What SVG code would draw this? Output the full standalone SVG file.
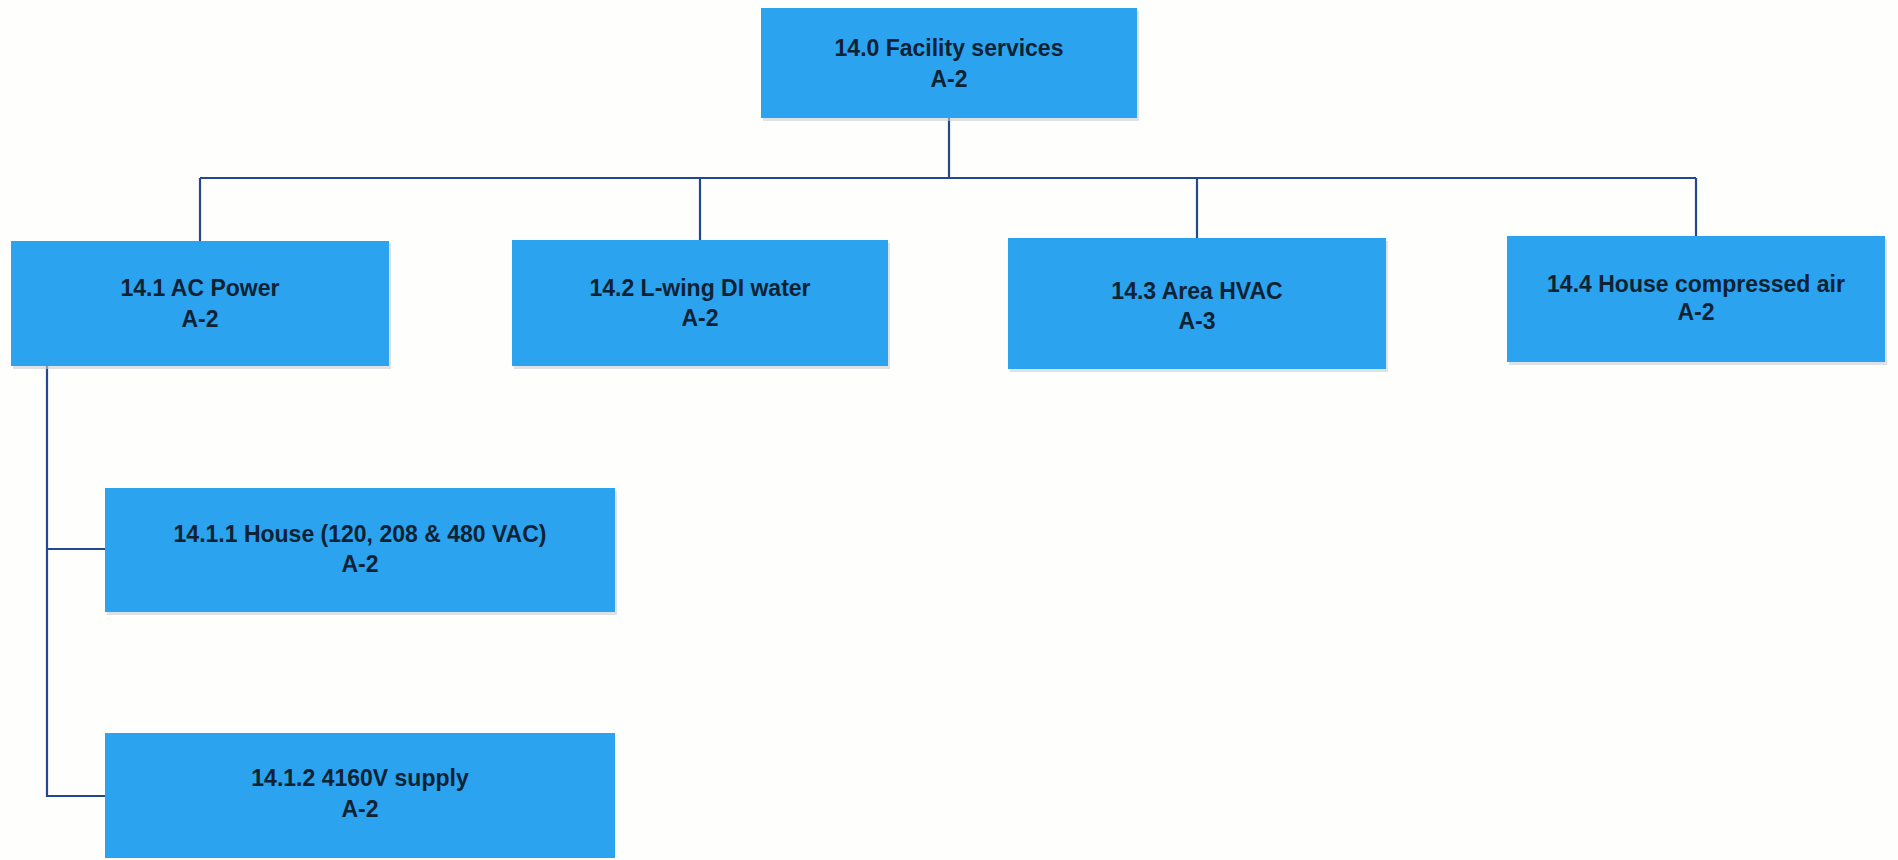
<svg xmlns="http://www.w3.org/2000/svg" width="1898" height="860" viewBox="0 0 1898 860">
  <style>
    .box { fill: #2ba3ef; }
    .shadow { fill: #c9ced3; opacity: 0.6; }
    .lbl { font-family: "Liberation Sans", Arial, sans-serif; font-weight: bold; font-size: 23px; fill: #0f2233; text-anchor: middle; }
    .conn { stroke: #24488c; stroke-width: 2.2; fill: none; }
  </style>
  <rect width="1898" height="860" fill="#fefefd"/>

  <g id="connectors">
    <path class="conn" d="M949 117 V178"/>
    <path class="conn" d="M200 178 H1696"/>
    <path class="conn" d="M200 178 V241"/>
    <path class="conn" d="M700 178 V240"/>
    <path class="conn" d="M1197 178 V238"/>
    <path class="conn" d="M1696 178 V236"/>
    <path class="conn" d="M47 366 V796 H105"/>
    <path class="conn" d="M47 549 H105"/>
  </g>

  <g id="n14_0">
    <rect class="shadow" x="763" y="11" width="376" height="110"/>
    <rect class="box" x="761" y="8" width="376" height="110"/>
    <text class="lbl" x="949" y="56">14.0 Facility services</text>
    <text class="lbl" x="949" y="87">A-2</text>
  </g>

  <g id="n14_1">
    <rect class="shadow" x="13" y="244" width="378" height="125"/>
    <rect class="box" x="11" y="241" width="378" height="125"/>
    <text class="lbl" x="200" y="296">14.1 AC Power</text>
    <text class="lbl" x="200" y="327">A-2</text>
  </g>

  <g id="n14_2">
    <rect class="shadow" x="514" y="243" width="376" height="126"/>
    <rect class="box" x="512" y="240" width="376" height="126"/>
    <text class="lbl" x="700" y="296">14.2 L-wing DI water</text>
    <text class="lbl" x="700" y="326">A-2</text>
  </g>

  <g id="n14_3">
    <rect class="shadow" x="1010" y="241" width="378" height="131"/>
    <rect class="box" x="1008" y="238" width="378" height="131"/>
    <text class="lbl" x="1197" y="299">14.3 Area HVAC</text>
    <text class="lbl" x="1197" y="329">A-3</text>
  </g>

  <g id="n14_4">
    <rect class="shadow" x="1509" y="239" width="378" height="126"/>
    <rect class="box" x="1507" y="236" width="378" height="126"/>
    <text class="lbl" x="1696" y="292">14.4 House compressed air</text>
    <text class="lbl" x="1696" y="320">A-2</text>
  </g>

  <g id="n14_1_1">
    <rect class="shadow" x="107" y="491" width="510" height="124"/>
    <rect class="box" x="105" y="488" width="510" height="124"/>
    <text class="lbl" x="360" y="542">14.1.1 House (120, 208 &amp; 480 VAC)</text>
    <text class="lbl" x="360" y="572">A-2</text>
  </g>

  <g id="n14_1_2">
    <rect class="box" x="105" y="733" width="510" height="125"/>
    <text class="lbl" x="360" y="786">14.1.2 4160V supply</text>
    <text class="lbl" x="360" y="817">A-2</text>
  </g>
</svg>
